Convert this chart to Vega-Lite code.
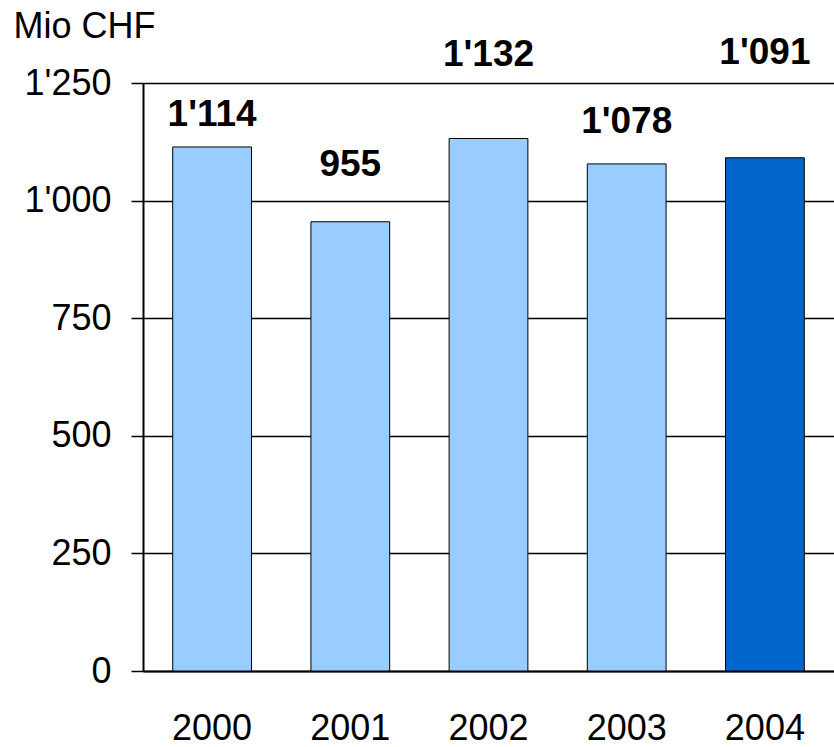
{
  "$schema": "https://vega.github.io/schema/vega-lite/v6.json",
  "width": 691,
  "height": 588,
  "autosize": {"type": "none"},
  "padding": {"left": 143, "top": 83, "right": 0, "bottom": 76},
  "background": "white",
  "config": {
    "locale": {"number": {"decimal": ".", "thousands": "'", "grouping": [3], "currency": ["", ""]}},
    "view": {"stroke": null},
    "font": "Liberation Sans"
  },
  "data": {
    "values": [
      {"year": "2000", "value": 1114},
      {"year": "2001", "value": 955},
      {"year": "2002", "value": 1132},
      {"year": "2003", "value": 1078},
      {"year": "2004", "value": 1091}
    ]
  },
  "encoding": {
    "x": {
      "field": "year", "type": "ordinal",
      "scale": {"paddingInner": 0.43, "paddingOuter": 0.215},
      "axis": {
        "title": null, "ticks": false, "grid": false,
        "domainColor": "black", "domainWidth": 2,
        "labelAngle": 0, "labelFontSize": 36, "labelColor": "black",
        "labelPadding": 68, "labelBaseline": "alphabetic"
      }
    },
    "y": {
      "field": "value", "type": "quantitative",
      "scale": {"domain": [0, 1250], "nice": false},
      "axis": {
        "values": [0, 250, 500, 750, 1000, 1250], "format": ",d",
        "grid": true, "gridColor": "black", "gridWidth": 1.3, "gridOpacity": 1,
        "domainColor": "black", "domainWidth": 2,
        "tickColor": "black", "tickSize": 12, "tickWidth": 1.5,
        "labelFontSize": 36, "labelColor": "black", "labelPadding": 20,
        "title": "Mio CHF", "titleAngle": 0, "titleX": -130, "titleY": -46,
        "titleAlign": "left", "titleBaseline": "alphabetic",
        "titleFontSize": 36, "titleFontWeight": "normal", "titleColor": "black"
      }
    }
  },
  "layer": [
    {
      "mark": {"type": "bar", "stroke": "black", "strokeWidth": 1},
      "encoding": {
        "color": {"condition": {"test": "datum.year == '2004'", "value": "#0066CC"}, "value": "#99CCFF"}
      }
    },
    {
      "transform": [{"filter": "datum.year == '2000'"}],
      "mark": {"type": "text", "fontWeight": "bold", "fontSize": 37, "baseline": "alphabetic", "align": "center", "dy": -20.5, "color": "black"},
      "encoding": {"text": {"field": "value", "type": "quantitative", "format": ",d"}}
    },
    {
      "transform": [{"filter": "datum.year == '2001'"}],
      "mark": {"type": "text", "fontWeight": "bold", "fontSize": 37, "baseline": "alphabetic", "align": "center", "dy": -45.6, "color": "black"},
      "encoding": {"text": {"field": "value", "type": "quantitative", "format": ",d"}}
    },
    {
      "transform": [{"filter": "datum.year == '2002'"}],
      "mark": {"type": "text", "fontWeight": "bold", "fontSize": 37, "baseline": "alphabetic", "align": "center", "dy": -72.3, "color": "black"},
      "encoding": {"text": {"field": "value", "type": "quantitative", "format": ",d"}}
    },
    {
      "transform": [{"filter": "datum.year == '2003'"}],
      "mark": {"type": "text", "fontWeight": "bold", "fontSize": 37, "baseline": "alphabetic", "align": "center", "dy": -31.4, "color": "black"},
      "encoding": {"text": {"field": "value", "type": "quantitative", "format": ",d"}}
    },
    {
      "transform": [{"filter": "datum.year == '2004'"}],
      "mark": {"type": "text", "fontWeight": "bold", "fontSize": 37, "baseline": "alphabetic", "align": "center", "dy": -93.3, "color": "black"},
      "encoding": {"text": {"field": "value", "type": "quantitative", "format": ",d"}}
    }
  ]
}
